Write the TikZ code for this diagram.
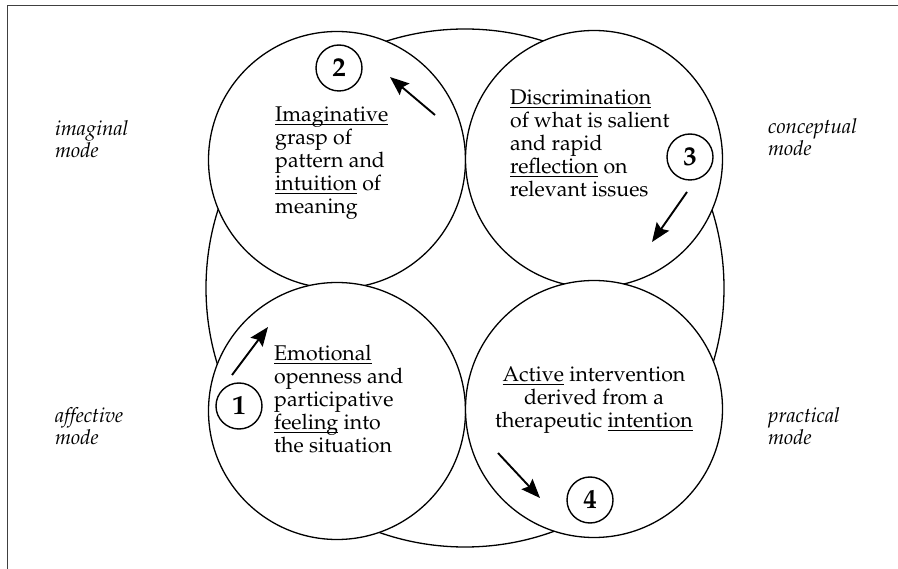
\documentclass[tikz,border=0pt]{standalone}
\usepackage[T1]{fontenc}
\usepackage{mathpazo}
\usetikzlibrary{arrows.meta}

\newcommand{\undl}[1]{\setbox0\hbox{#1}\rlap{\rule[-3pt]{\wd0}{0.7pt}}#1}

\begin{document}
\begin{tikzpicture}[x=1pt, y=-1pt,
  phase/.style={circle, draw, line width=1.3pt, fill=white, minimum size=257pt, inner sep=0pt},
  num/.style={circle, draw, line width=1.4pt, fill=white, minimum size=46pt, inner sep=0pt, font=\fontsize{27}{27}\selectfont\bfseries},
  desc/.style={align=left, inner sep=0pt, anchor=north west, font=\fontsize{21.3}{23}\selectfont},
  mode/.style={align=left, inner sep=0pt, anchor=north west, font=\fontsize{20.6}{22.5}\selectfont\itshape},
  arrow/.style={-{Stealth[length=19pt, width=15pt, inset=3pt]}, line width=1.9pt}
]
\useasboundingbox (0,0) rectangle (898,569);

% Frame
\draw[line width=1pt, black!75] (7,569) -- (7,6) -- (898,6);

% Outer cycle
\node[circle, draw, line width=1.3pt, minimum size=518pt, inner sep=0pt] (cycle) at (465,288) {};

% Phases
\node[phase] (imag) at (337,160) {};
\node[phase] (conc) at (594,159) {};
\node[phase] (affe) at (337,411) {};
\node[phase] (prac) at (594,409) {};

% Phase texts
\node[desc] (imagtxt) at (275,107) {\undl{Imaginative}\\grasp of\\pattern and\\\undl{intuition} of\\meaning};
\node[desc] (conctxt) at (510,90) {\undl{Discrimination}\\of what is salient\\and rapid\\\undl{reflection} on\\relevant issues};
\node[desc] (affetxt) at (274,345) {\undl{Emotional}\\openness and\\participative\\\undl{feeling} into\\the situation};
\node[desc, align=center, anchor=north] (practxt) at (594,367) {\undl{Active} intervention\\derived from a\\therapeutic \undl{intention}};

% Modes
\node[mode] (imagmode) at (55,120) {imaginal\\mode};
\node[mode] (concmode) at (768,118) {conceptual\\mode};
\node[mode] (affemode) at (55,407) {affective\\mode};
\node[mode] (pracmode) at (768,407) {practical\\mode};

% Step numbers
\node[num] (n1) at (239,406) {1};
\node[num] (n2) at (339,68) {2};
\node[num] (n3) at (690,157) {3};
\node[num] (n4) at (590,500) {4};

% Arrows
\coordinate (a1) at (232,375); \coordinate (b1) at (268,327);
\coordinate (a2) at (435,115); \coordinate (b2) at (390,77);
\coordinate (a3) at (687,192); \coordinate (b3) at (652,242);
\coordinate (a4) at (498,453); \coordinate (b4) at (540,498);
\draw[arrow] (a1) -- (b1);
\draw[arrow] (a2) -- (b2);
\draw[arrow] (a3) -- (b3);
\draw[arrow] (a4) -- (b4);
\end{tikzpicture}
\end{document}
